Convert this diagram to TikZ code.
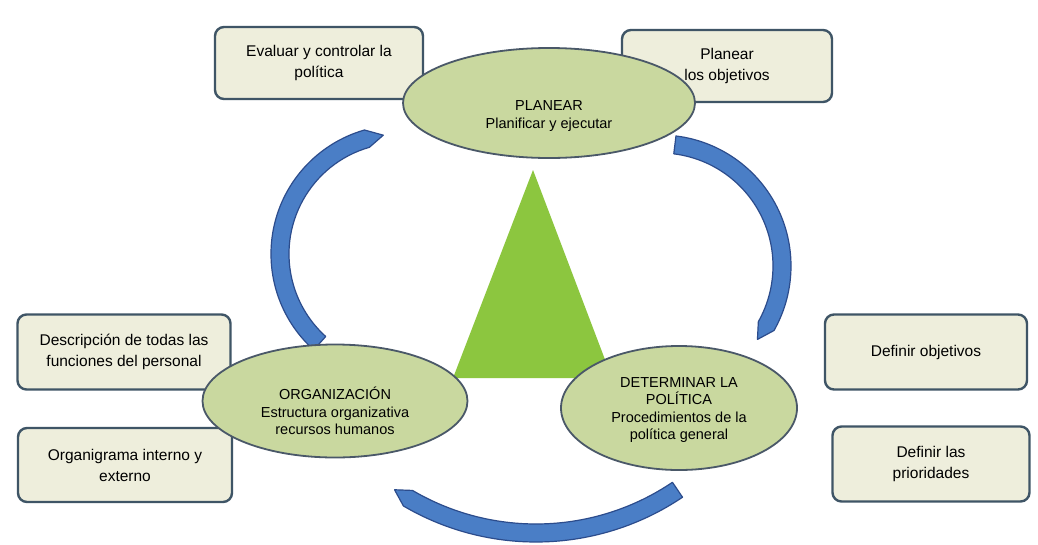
\documentclass[tikz,border=0pt]{standalone}
\usepackage{fontspec}
\setmainfont{Liberation Sans}
\usetikzlibrary{shapes.geometric,calc}
\definecolor{ellfill}{HTML}{C9D89F}
\definecolor{ellline}{HTML}{4A5868}
\definecolor{trifill}{HTML}{8CC63F}
\definecolor{boxfill}{HTML}{EEEEDC}
\definecolor{boxline}{HTML}{3F5566}
\definecolor{arrfill}{HTML}{4A7EC6}
\definecolor{arrline}{HTML}{2C4C8C}
\tikzset{
  stage/.style={ellipse, fill=ellfill, draw=ellline, line width=1.8pt, align=center, inner sep=0pt},
  stagetext/.style={align=center, inner sep=0pt, font=\fontsize{14.5}{17.5}\selectfont},
  infobox/.style={rectangle, rounded corners=9pt, fill=boxfill, draw=boxline, line width=2.4pt,
    align=center, inner sep=0pt, font=\fontsize{15.5}{21}\selectfont},
  band/.style={fill=arrfill, draw=arrline, line width=1.2pt, line join=round}
}
\begin{document}
\begin{tikzpicture}[x=1pt,y=-1pt]
\useasboundingbox (0,0) rectangle (1038,544);
\fill[white] (0,0) rectangle (1038,544);

% cycle arrows
\fill[band] (400,254) ++(132:129) arc[start angle=132, end angle=254, radius=129]
  -- ([shift={(262:120)}]400,254) -- ([shift={(254:111)}]400,254)
  arc[start angle=254, end angle=132, radius=111] -- cycle;
\fill[band] (660,266) ++(-83:131) arc[start angle=-83, end angle=29.5, radius=131]
  -- ([shift={(37:122)}]660,266) -- ([shift={(29.5:113)}]660,266)
  arc[start angle=29.5, end angle=-83, radius=113] -- cycle;
\fill[band] (536,280) ++(56:262) arc[start angle=56, end angle=120.4, radius=262]
  -- ([shift={(124:253)}]536,280) -- ([shift={(120.4:244)}]536,280)
  arc[start angle=120.4, end angle=56, radius=244] -- cycle;

% central triangle
\fill[trifill] (533,170) -- (612,378) -- (453,378) -- cycle;

% boxes
\node[infobox, minimum width=208pt, minimum height=72pt] (b1) at (319,63) {Evaluar y controlar la\\política};
\node[infobox, minimum width=210pt, minimum height=72pt] (b2) at (727,66) {Planear\\los objetivos};
\node[infobox, minimum width=213pt, minimum height=75pt] (b3) at (124,352) {Descripción de todas las\\funciones del personal};
\node[infobox, minimum width=214pt, minimum height=74pt] (b4) at (125,465) {Organigrama interno y\\externo};
\node[infobox, minimum width=202pt, minimum height=75pt] (b5) at (926,352) {Definir objetivos};
\node[infobox, minimum width=197pt, minimum height=75pt] (b6) at (931,464) {Definir las\\prioridades};

% stages
\node[stage, minimum width=292pt, minimum height=110pt] (top) at (549,103) {};
\node[stagetext] (toptext) at (549,116) {PLANEAR\\Planificar y ejecutar};
\node[stage, minimum width=265pt, minimum height=113pt] (lft) at (335,401) {};
\node[stagetext] (lfttext) at (335,411) {ORGANIZACIÓN\\Estructura organizativa\\recursos humanos};
\node[stage, minimum width=236pt, minimum height=124pt] (rgt) at (679,408) {};
\node[stagetext] (rgttext) at (679,410) {DETERMINAR LA\\POLÍTICA\\Procedimientos de la\\política general};
\end{tikzpicture}
\end{document}
